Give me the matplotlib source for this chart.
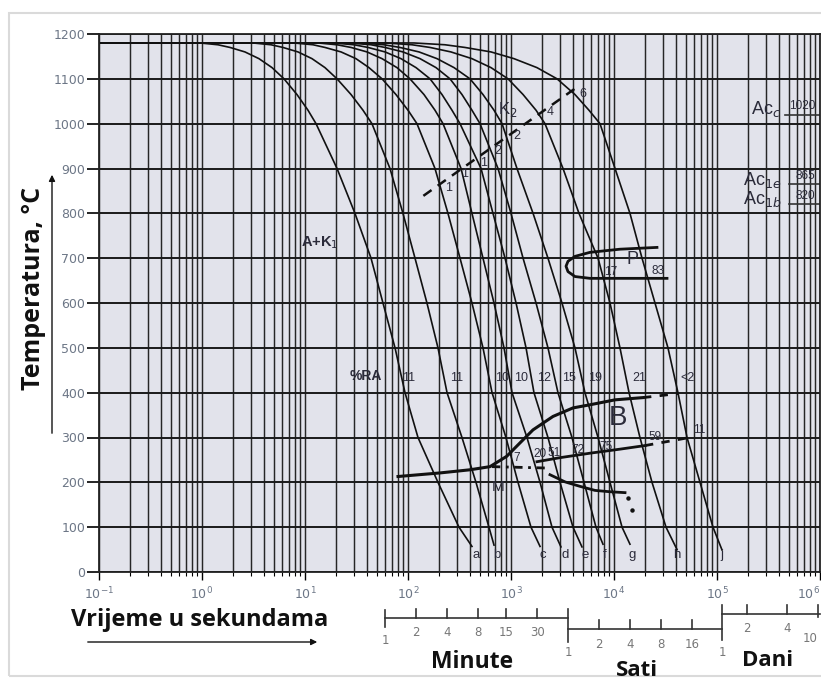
import numpy as np
import matplotlib
matplotlib.use('Agg')
import matplotlib.pyplot as plt
from matplotlib import transforms
from matplotlib.patches import Rectangle, FancyArrowPatch

# cooling curves: log10(time, s) vs temperature (degC)
curve_T = [1180, 1180, 1176, 1170, 1160, 1145, 1125, 1100, 1065, 1030, 1000,
           900, 800, 700, 600, 500, 400, 300, 200, 100]
a_logt = [-1, -0.019, 0.155, 0.272, 0.417, 0.553, 0.680, 0.796, 0.922, 1.029, 1.107,
          1.311, 1.485, 1.641, 1.757, 1.874, 1.971, 2.097, 2.291, 2.495, 2.621]
b_logt = [-1, 0.495, 0.670, 0.786, 0.932, 1.068, 1.194, 1.311, 1.447, 1.563, 1.650,
          1.825, 1.951, 2.068, 2.184, 2.291, 2.379, 2.524, 2.660, 2.786, 2.835]
c_logt = [-1, 0.893, 1.078, 1.194, 1.350, 1.495, 1.621, 1.748, 1.883, 2.000, 2.087,
          2.262, 2.388, 2.505, 2.621, 2.728, 2.816, 2.951, 3.068, 3.194, 3.282]
d_logt = [-1, 1.126, 1.311, 1.447, 1.602, 1.748, 1.893, 2.019, 2.155, 2.262, 2.340,
          2.515, 2.621, 2.728, 2.835, 2.932, 3.010, 3.155, 3.282, 3.398, 3.485]
e_logt = [-1, 1.272, 1.476, 1.612, 1.777, 1.932, 2.078, 2.214, 2.330, 2.427, 2.505,
          2.709, 2.825, 2.942, 3.049, 3.146, 3.223, 3.359, 3.476, 3.602, 3.689]
f_logt = [-1, 1.427, 1.641, 1.777, 1.951, 2.117, 2.272, 2.408, 2.524, 2.621, 2.699,
          2.874, 3.000, 3.117, 3.243, 3.359, 3.456, 3.592, 3.709, 3.825, 3.893]
g_logt = [-1, 1.544, 1.767, 1.922, 2.107, 2.282, 2.447, 2.602, 2.728, 2.835, 2.913,
          3.058, 3.214, 3.359, 3.495, 3.621, 3.718, 3.845, 3.961, 4.078, 4.155]
h_logt = [-1, 1.786, 2.039, 2.214, 2.417, 2.621, 2.806, 2.971, 3.117, 3.243, 3.330,
          3.505, 3.660, 3.845, 3.961, 4.058, 4.146, 4.252, 4.369, 4.505, 4.612]
j_logt = [-1, 2.058, 2.359, 2.553, 2.806, 3.029, 3.252, 3.447, 3.621, 3.757, 3.864,
          4.010, 4.155, 4.272, 4.398, 4.524, 4.621, 4.709, 4.835, 4.961, 5.049]
end_T = [57, 60, 57, 56, 56, 62, 62, 50, 49]
curve_names = list('abcdefghj')
curve_logt = [a_logt, b_logt, c_logt, d_logt, e_logt, f_logt, g_logt, h_logt, j_logt]
letter_t = [457, 731, 2046, 3345, 5230, 8180, 14960, 40900, 112000]

# %RA at 400 C
ra_vals = ['11', '11', '10', '10', '12', '15', '19', '21', '<2']
ra_t = [87.5, 256, 700, 1070, 1787, 3126, 5600, 14960, 43700]

# K2 line + numbers on it
k2_t = [141, 4345]
k2_T = [839, 1081]
k2_vals = ['1', '1', '1', '2', '2', '4', '6']
k2_lt = [246, 357, 538, 753, 1136, 2392, 5035]
k2_lT = [857, 887, 913, 939, 973, 1025, 1066]

# pearlite nose
p_t = [26130, 11430, 5850, 4180, 3575, 3420, 3575, 4180, 5850, 32700]
p_T = [724, 720, 713, 704, 693, 682, 670, 659, 655, 655]

# bainite start / Ms, bainite end, lower line
bs_t = [80, 205, 400, 625, 908, 1223, 1635, 2558, 4000, 5850, 10230, 19140]
bs_T = [213, 221, 228, 235, 258, 288, 317, 347, 366, 373, 384, 389]
bs_dash_t = [19140, 41800]
bs_dash_T = [389, 398]
bf_t = [1787, 2990, 5850, 11430, 20000]
bf_T = [246, 255, 265, 274, 282]
bf_dash_t = [20000, 51170]
bf_dash_T = [282, 299]
m_dash_t = [654, 2138]
m_dash_T = [235, 232]
low_t = [2390, 3345, 4680, 6540, 9140, 12790]
low_T = [217, 201, 191, 182, 179, 177]
low_dot_t = [13680, 14960]
low_dot_T = [165, 139]
b_nums = ['7', '20', '51', '72', '75', '59', '11']
b_nums_t = [1143, 1914, 2614, 4470, 8360, 25000, 66800]
b_nums_T = [255, 264, 266, 273, 279, 300, 317]

# time scales under the axis (seconds)
min_s = [60, 120, 240, 480, 900, 1800, 3600]
min_lab = ['1', '2', '4', '8', '15', '30']
hour_s = [3600, 7200, 14400, 28800, 57600, 112000]
hour_lab = ['1', '2', '4', '8', '16']
day_s = [112000, 195000, 479000, 955000]
day_lab = ['1', '2', '4', '10']

W, H = 821, 679
fig = plt.figure(figsize=(W / 100, H / 100), dpi=100)
ax = fig.add_axes([99 / W, 1 - 572 / H, 721 / W, 538 / H])
ax.set_facecolor('#e2e3eb')
ax.set_xscale('log')
ax.set_xlim(0.1, 1e6)
ax.set_ylim(0, 1200)
ax.set_yticks(range(0, 1201, 100))
ax.set_xticks([10.0 ** k for k in range(-1, 7)])
ax.set_xticklabels(['$10^{%d}$' % k for k in range(-1, 7)])
ax.get_xticklabels()[-1].set_horizontalalignment('right')
ax.grid(which='both', axis='x', color='#262626', lw=1.05)
ax.grid(which='major', axis='y', color='#1a1a1a', lw=1.4)
ax.set_axisbelow(True)
ax.tick_params(axis='y', length=9, width=1.2, labelsize=9, labelcolor='#6c7686', pad=1)
ax.tick_params(axis='x', which='major', length=6, width=1.0, labelsize=9, labelcolor='#6c7686', pad=4)
ax.tick_params(axis='x', which='minor', length=3, width=0.8)
for s in ax.spines.values():
    s.set_linewidth(1.3)
    s.set_color('#222222')

lab_font = dict(family='Liberation Sans', color='#2b2b3a')

for lt, tend in zip(curve_logt, end_T):
    ax.plot(10 ** np.array(lt), curve_T + [tend], color='#111111', lw=1.2)
for name, x in zip(curve_names, letter_t):
    ax.text(x, 38, name, ha='center', va='center', fontsize=9.5, **lab_font)
for v, x in zip(ra_vals, ra_t):
    ax.text(x, 433, v, ha='left', va='center', fontsize=9, **lab_font)
ax.text(39, 437, '%RA', ha='center', va='center', fontsize=10, fontweight='bold', **lab_font)
ax.text(14, 735, 'A+K$_1$', ha='center', va='center', fontsize=10.5, fontweight='bold', **lab_font)

ax.plot(k2_t, k2_T, color='#111111', lw=1.8, ls=(0, (4, 3)))
for v, x, y in zip(k2_vals, k2_lt, k2_lT):
    ax.text(x, y, v, ha='center', va='center', fontsize=9, **lab_font)
ax.text(935, 1032, 'K$_2$', ha='center', va='center', fontsize=12, **lab_font)

ax.plot(p_t, p_T, color='#111111', lw=2.0)
ax.text(15290, 697, 'P', ha='center', va='center', fontsize=13, **lab_font)
ax.text(9350, 670, '17', ha='center', va='center', fontsize=8.5, **lab_font)
ax.text(26700, 672, '83', ha='center', va='center', fontsize=8.5, **lab_font)

ax.plot(bs_t, bs_T, color='#111111', lw=2.2)
ax.plot(bs_dash_t, bs_dash_T, color='#111111', lw=2.0, ls=(0, (3, 3)))
ax.plot(bf_t, bf_T, color='#111111', lw=2.0)
ax.plot(bf_dash_t, bf_dash_T, color='#111111', lw=2.0, ls=(0, (3, 3)))
ax.plot(m_dash_t, m_dash_T, color='#111111', lw=2.0, ls=(0, (3, 2, 1, 2)))
ax.plot(low_t, low_T, color='#111111', lw=2.0)
ax.plot(low_dot_t, low_dot_T, 'o', color='#111111', ms=2.2)
for v, x, y in zip(b_nums, b_nums_t, b_nums_T):
    ax.text(x, y, v, ha='center', va='center', fontsize=8.5, **lab_font)
ax.text(10940, 344, 'B', ha='center', va='center', fontsize=20, **lab_font)
ax.text(748, 190, 'M', ha='center', va='center', fontsize=11, **lab_font)

# transformation temperatures on the right
ax.text(2.99e5, 1032, 'Ac$_c$', ha='center', va='center', fontsize=13, **lab_font)
ax.text(6.7e5, 1039, '1020', ha='center', va='center', fontsize=8.5, **lab_font)
ax.plot([4.57e5, 1e6], [1020, 1020], color='#333333', lw=1.2)
ax.text(2.73e5, 874, 'Ac$_{1e}$', ha='center', va='center', fontsize=13, **lab_font)
ax.text(7.15e5, 883, '865', ha='center', va='center', fontsize=8.5, **lab_font)
ax.plot([5.0e5, 1e6], [865, 865], color='#333333', lw=1.2)
ax.text(2.73e5, 831, 'Ac$_{1b}$', ha='center', va='center', fontsize=13, **lab_font)
ax.text(7.15e5, 838, '820', ha='center', va='center', fontsize=8.5, **lab_font)
ax.plot([5.0e5, 1e6], [820, 820], color='#333333', lw=1.2)

# time scales (x in seconds, y in figure fraction)
tr = transforms.blended_transform_factory(ax.transData, fig.transFigure)
fy = lambda p: 1 - p / H
sc = dict(color='#333333', lw=1.2, transform=tr, clip_on=False)
num = dict(ha='center', va='center', fontsize=8.5, color='#777777', transform=tr)

ax.plot([min_s[0], min_s[-1]], [fy(618)] * 2, **sc)
ax.plot([min_s[0]] * 2, [fy(610), fy(627)], **sc)
for s in min_s[1:-1]:
    ax.plot([s, s], [fy(609), fy(618)], **sc)
ax.text(min_s[0], fy(640), min_lab[0], **num)
for s, l in zip(min_s[1:-1], min_lab[1:]):
    ax.text(s, fy(633), l, **num)

ax.plot([hour_s[0]] * 2, [fy(609), fy(642)], **sc)
ax.plot([hour_s[0], hour_s[-1]], [fy(629)] * 2, **sc)
for s in hour_s[1:-1]:
    ax.plot([s, s], [fy(620), fy(629)], **sc)
ax.text(hour_s[0], fy(653), hour_lab[0], **num)
for s, l in zip(hour_s[1:-1], hour_lab[1:]):
    ax.text(s, fy(644), l, **num)

ax.plot([day_s[0]] * 2, [fy(605), fy(640)], **sc)
ax.plot([day_s[0], 1e6], [fy(614)] * 2, **sc)
for s in day_s[1:-1]:
    ax.plot([s, s], [fy(605), fy(614)], **sc)
ax.plot([day_s[-1]] * 2, [fy(605), fy(617)], **sc)
ax.text(day_s[0], fy(653), day_lab[0], **num)
for s, l in zip(day_s[1:-1], day_lab[1:-1]):
    ax.text(s, fy(628), l, **num)
ax.text(day_s[-1], fy(638), day_lab[-1], ha='right', va='center', fontsize=8.5,
        color='#777777', transform=tr)

big = dict(fontweight='bold', family='Open Sans', color='#111111')
fig.text(472 / W, fy(662), 'Minute', ha='center', va='center', fontsize=16.5, **big)
fig.text(637 / W, fy(670), 'Sati', ha='center', va='center', fontsize=16, **big)
fig.text(768 / W, fy(660), 'Dani', ha='center', va='center', fontsize=16, **big)
fig.text(200 / W, fy(620), 'Vrijeme u sekundama', ha='center', va='center', fontsize=17, **big)
fig.text(34 / W, fy(288), 'Temperatura, °C', rotation=90, ha='center', va='center',
         fontsize=18, **big)

arr = dict(arrowstyle='-|>', color='#111111', lw=1.0, mutation_scale=9)
fig.add_artist(FancyArrowPatch((85 / W, fy(642)), (320 / W, fy(642)),
                               transform=fig.transFigure, **arr))
fig.add_artist(FancyArrowPatch((52 / W, fy(436)), (52 / W, fy(172)),
                               transform=fig.transFigure, **arr))

fig.add_artist(Rectangle((9 / W, fy(676)), 1.0, (676 - 13) / H, transform=fig.transFigure,
                         fill=False, edgecolor='#dadada', lw=1.5))

fig.savefig('out.png', dpi=100)
